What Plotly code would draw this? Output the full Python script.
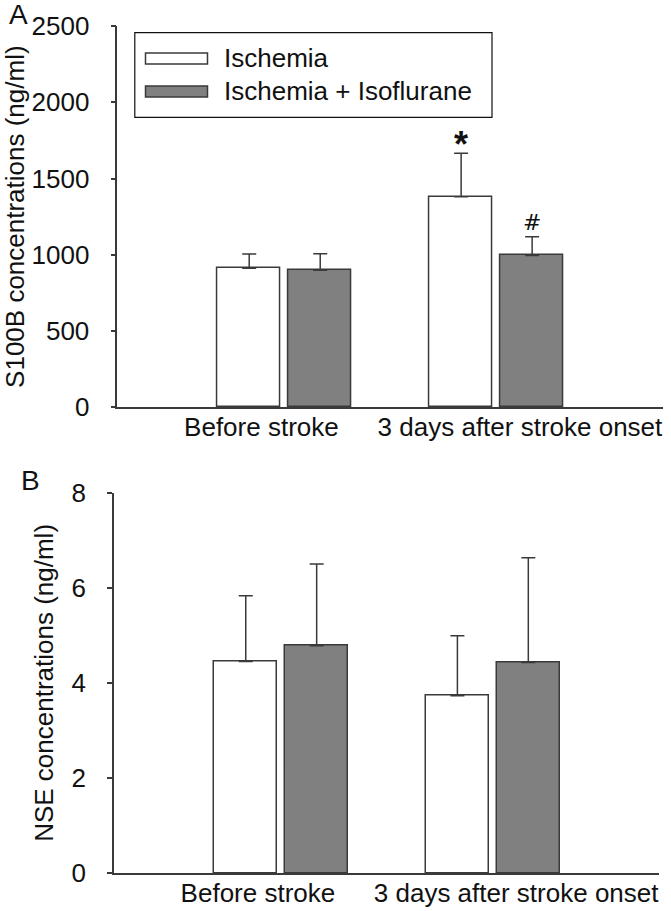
import plotly.graph_objects as go

# ---------------- data ----------------
categories = ["Before stroke", "3 days after stroke onset"]
series_names = ["Ischemia", "Ischemia + Isoflurane"]

s100b_ischemia = [911, 1381]
s100b_ischemia_err = [94, 284]
s100b_isoflurane = [898, 996]
s100b_isoflurane_err = [109, 123]

nse_ischemia = [4.45, 3.73]
nse_ischemia_err = [1.38, 1.26]
nse_isoflurane = [4.78, 4.43]
nse_isoflurane_err = [1.72, 2.20]

s100b_ticks = [0, 500, 1000, 1500, 2000, 2500]
nse_ticks = [0, 2, 4, 6, 8]

s100b_marks_ischemia = ["", "*"]
s100b_marks_isoflurane = ["", "#"]

# ---------------- style ----------------
W, H = 671, 911
FONT = "Liberation Sans, Arial, sans-serif"
FS = 26
LINE = "#3a3a3a"
FILLS = ["#ffffff", "#808080"]
BAR_W = 0.297
OFFSETS = [-0.316, 0.019]
LABEL_SPREAD = 0.11


def px_x(v):
    return v / W


def px_y(v):
    return 1 - v / H


xpos = list(range(len(categories)))
tickpos = [i + (LABEL_SPREAD if i > 0 else -LABEL_SPREAD) for i in xpos]

fig = go.Figure()

panels = [
    ("x", "y", [s100b_ischemia, s100b_isoflurane], [s100b_ischemia_err, s100b_isoflurane_err]),
    ("x2", "y2", [nse_ischemia, nse_isoflurane], [nse_ischemia_err, nse_isoflurane_err]),
]
for xa, ya, vals, errs in panels:
    for k in range(2):
        fig.add_trace(go.Bar(
            x=xpos, y=vals[k], name=series_names[k], xaxis=xa, yaxis=ya,
            width=BAR_W, offset=OFFSETS[k],
            marker=dict(color=FILLS[k], line=dict(color=LINE, width=1.5)),
            error_y=dict(type="data", array=errs[k], arrayminus=[0] * len(errs[k]),
                         symmetric=False, color=LINE, thickness=1.5, width=7),
            showlegend=False,
        ))

xcommon = dict(type="linear", range=[-0.79, 1.785], showline=True, linecolor=LINE,
               linewidth=1.5, ticks="", showgrid=False, zeroline=False, automargin=False,
               tickmode="array", tickvals=tickpos, ticktext=categories,
               tickfont=dict(family=FONT, size=FS, color="#111"), ticklabelstandoff=-4)
ycommon = dict(showline=True, linecolor=LINE, linewidth=1.5, ticks="outside", ticklen=5,
               tickcolor=LINE, tickwidth=1.5, showgrid=False, zeroline=False, automargin=False,
               tickfont=dict(family=FONT, size=FS, color="#111"), ticklabelstandoff=16)

fig.update_layout(
    width=W, height=H, margin=dict(l=0, r=0, t=0, b=0),
    paper_bgcolor="white", plot_bgcolor="white",
    bargap=0, font=dict(family=FONT, size=FS, color="#111"),
    xaxis=dict(domain=[px_x(117.3), px_x(663)], anchor="y", **xcommon),
    yaxis=dict(domain=[px_y(407.3), px_y(26)], anchor="x", range=[0, 2500],
               tickvals=s100b_ticks,
               title=dict(text="S100B concentrations (ng/ml)", standoff=10,
                          font=dict(family=FONT, size=FS, color="#111")), **ycommon),
    xaxis2=dict(domain=[px_x(114), px_x(659)], anchor="y2", **xcommon),
    yaxis2=dict(domain=[px_y(873.3), px_y(492.5)], anchor="x2", range=[0, 8],
                tickvals=nse_ticks,
                title=dict(text="NSE concentrations (ng/ml)", standoff=10,
                           font=dict(family=FONT, size=FS, color="#111")), **ycommon),
)

# panel letters
fig.add_annotation(text="A", xref="paper", yref="paper", x=px_x(18), y=px_y(15),
                   xanchor="center", yanchor="middle",
                   showarrow=False, font=dict(family=FONT, size=28, color="#111"))
fig.add_annotation(text="B", xref="paper", yref="paper", x=px_x(30.5), y=px_y(481),
                   xanchor="center", yanchor="middle",
                   showarrow=False, font=dict(family=FONT, size=28, color="#111"))

# significance marks
for i in xpos:
    if s100b_marks_ischemia[i]:
        fig.add_annotation(text="<b>%s</b>" % s100b_marks_ischemia[i], xref="x", yref="y",
                           x=i + OFFSETS[0] + BAR_W / 2,
                           y=s100b_ischemia[i] + s100b_ischemia_err[i],
                           yanchor="bottom", yshift=-14, showarrow=False,
                           font=dict(family=FONT, size=36, color="#111"))
    if s100b_marks_isoflurane[i]:
        fig.add_annotation(text=s100b_marks_isoflurane[i], xref="x", yref="y",
                           x=i + OFFSETS[1] + BAR_W / 2,
                           y=s100b_isoflurane[i] + s100b_isoflurane_err[i],
                           yanchor="bottom", yshift=0, showarrow=False,
                           font=dict(family="DejaVu Sans, sans-serif", size=22, color="#111"))

# legend (drawn box, swatches and labels)
fig.add_shape(type="rect", xref="paper", yref="paper",
              x0=px_x(134.8), x1=px_x(492), y0=px_y(117.3), y1=px_y(32.6),
              line=dict(color="#111", width=1.2), fillcolor="white")
leg_rows = [58.5, 91.5]
for k in range(2):
    yc = leg_rows[k]
    fig.add_shape(type="rect", xref="paper", yref="paper",
                  x0=px_x(145.5), x1=px_x(207.5), y0=px_y(yc + 5.5), y1=px_y(yc - 5.5),
                  line=dict(color=LINE, width=1.5), fillcolor=FILLS[k])
    fig.add_annotation(text=series_names[k], xref="paper", yref="paper",
                       x=px_x(222), y=px_y(yc), xanchor="left", yanchor="middle",
                       showarrow=False, font=dict(family=FONT, size=FS, color="#111"))

# remove the browser's default body margin so the figure fills the window exactly
fig.write_html("out.html", config={"displayModeBar": False},
               post_script="document.body.style.margin='0';document.body.style.overflow='hidden';")
